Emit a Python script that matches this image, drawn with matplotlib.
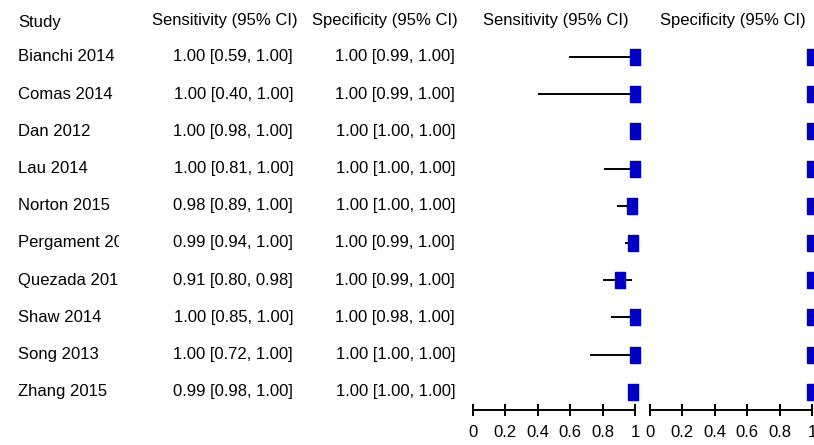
import matplotlib.pyplot as plt
from matplotlib.transforms import blended_transform_factory, Bbox, TransformedBbox

studies = ["Bianchi 2014", "Comas 2014", "Dan 2012", "Lau 2014", "Norton 2015",
           "Pergament 2014", "Quezada 2015", "Shaw 2014", "Song 2013", "Zhang 2015"]
sens = [1.00, 1.00, 1.00, 1.00, 0.98, 0.99, 0.91, 1.00, 1.00, 0.99]
sens_lo = [0.59, 0.40, 0.98, 0.81, 0.89, 0.94, 0.80, 0.85, 0.72, 0.98]
sens_hi = [1.00, 1.00, 1.00, 1.00, 1.00, 1.00, 0.98, 1.00, 1.00, 1.00]
spec = [1.00, 1.00, 1.00, 1.00, 1.00, 1.00, 1.00, 1.00, 1.00, 1.00]
spec_lo = [0.99, 0.99, 1.00, 1.00, 1.00, 0.99, 0.99, 0.98, 1.00, 1.00]
spec_hi = [1.00, 1.00, 1.00, 1.00, 1.00, 1.00, 1.00, 1.00, 1.00, 1.00]
ticks = [0, 0.2, 0.4, 0.6, 0.8, 1]
tick_labels = ["0", "0.2", "0.4", "0.6", "0.8", "1"]

plt.rcParams['font.family'] = ['Liberation Sans', 'DejaVu Sans']
FS = 12
W, H = 814, 445
fig = plt.figure(figsize=(W / 100, H / 100), dpi=100)

# rectangle marker (taller than wide)
box = [(-0.6, -1), (0.6, -1), (0.6, 1), (-0.6, 1), (-0.6, -1)]
rows = list(range(len(studies)))


def make_panel(left_px, vals, lo, hi, title):
    ax = fig.add_axes([left_px / W, (H - 410) / H, 162 / W, 370 / H])
    ax.set_xlim(0, 1)
    ax.set_ylim(9.49, -0.457)
    for y, v, l, h in zip(rows, vals, lo, hi):
        ax.plot([l, h], [y, y], color='black', lw=1.4, solid_capstyle='butt', clip_on=False)
        ax.plot([v], [y], marker=box, ms=12, color='#0000C4', mec='#0000C4',
                linestyle='none', clip_on=False)
    for s in ['top', 'right', 'left']:
        ax.spines[s].set_visible(False)
    ax.spines['bottom'].set_linewidth(1.4)
    ax.set_yticks([])
    ax.set_xticks(ticks)
    ax.set_xticklabels(tick_labels, fontsize=FS)
    ax.tick_params(axis='x', direction='inout', length=9, width=1.4, pad=6)
    fig.text((left_px + 10) / W, 1 - 20 / H, title, fontsize=FS, ha='left', va='center')
    return ax


ax1 = make_panel(473, sens, sens_lo, sens_hi, "Sensitivity (95% CI)")
ax2 = make_panel(650, spec, spec_lo, spec_hi, "Specificity (95% CI)")

tr = blended_transform_factory(fig.transFigure, ax1.transData)
clip = TransformedBbox(Bbox([[0, 0], [119 / W, 1]]), fig.transFigure)

fig.text(18 / W, 1 - 22 / H, "Study", fontsize=FS, ha='left', va='center')
fig.text(152 / W, 1 - 20 / H, "Sensitivity (95% CI)", fontsize=FS, ha='left', va='center')
fig.text(312 / W, 1 - 20 / H, "Specificity (95% CI)", fontsize=FS, ha='left', va='center')

for i in rows:
    t = fig.text(18 / W, i, studies[i], fontsize=FS, ha='left', va='center', transform=tr)
    t.set_clip_box(clip)
    t.set_clip_on(True)
    fig.text(293 / W, i, f"{sens[i]:.2f} [{sens_lo[i]:.2f}, {sens_hi[i]:.2f}]",
             fontsize=FS, ha='right', va='center', transform=tr)
    fig.text(455 / W, i, f"{spec[i]:.2f} [{spec_lo[i]:.2f}, {spec_hi[i]:.2f}]",
             fontsize=FS, ha='right', va='center', transform=tr)

fig.savefig("out.png", dpi=100)
